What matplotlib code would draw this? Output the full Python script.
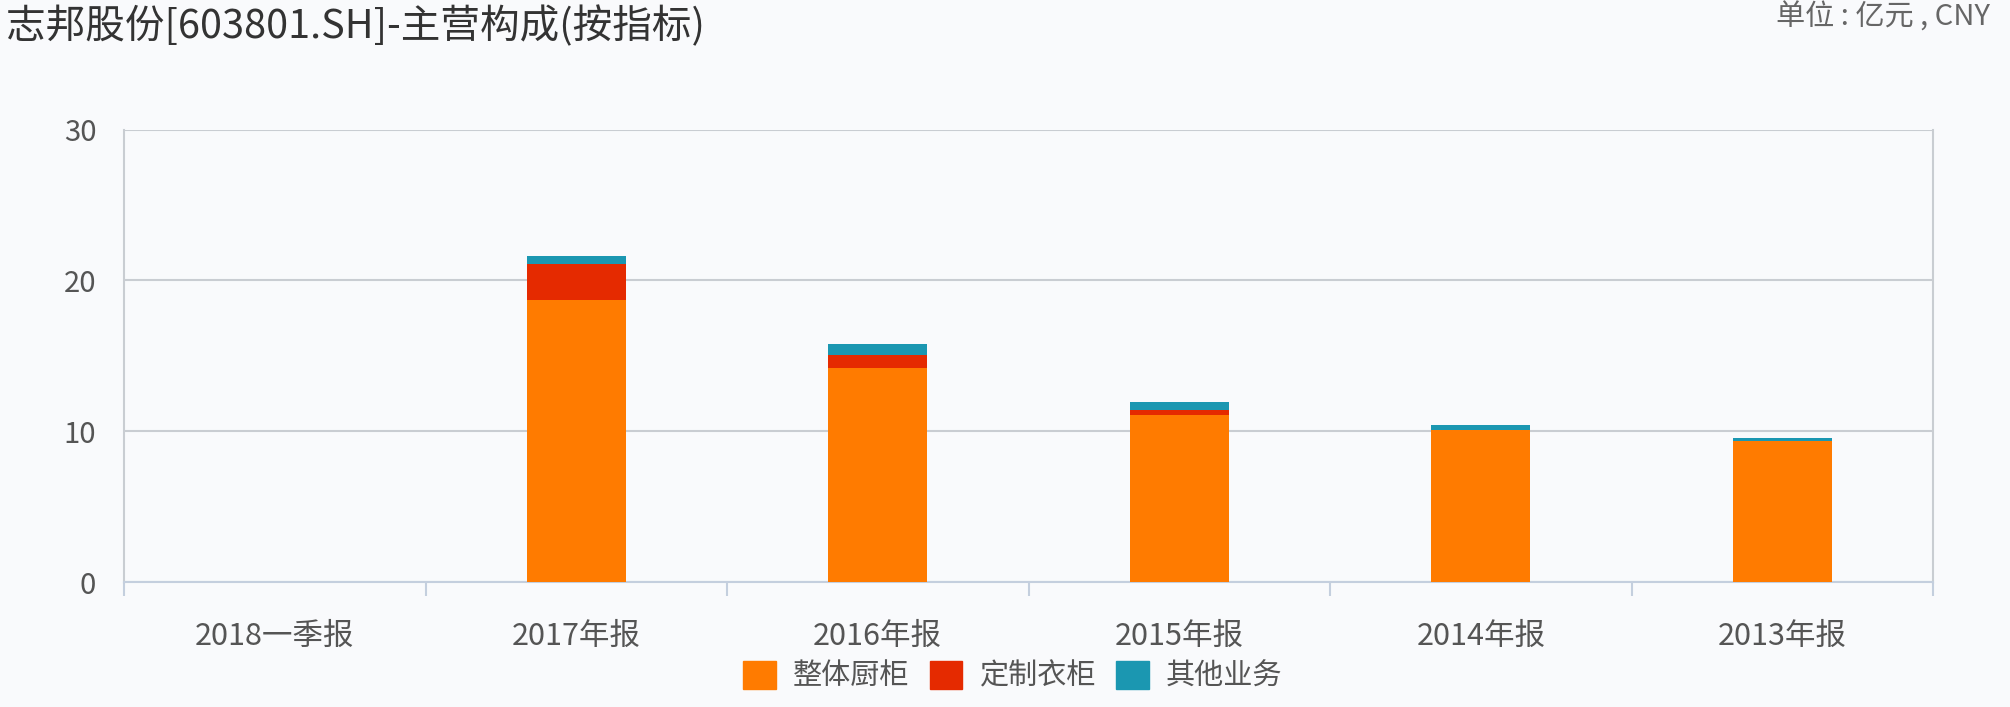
import matplotlib.pyplot as plt
from matplotlib.patches import Patch
import numpy as np

plt.rcParams['font.family'] = ['Noto Sans CJK SC', 'DejaVu Sans']

# data (亿元)
periods = ["2018一季报", "2017年报", "2016年报", "2015年报", "2014年报", "2013年报"]
kitchen = [0, 18.70, 14.22, 11.05, 10.05, 9.38]    # 整体厨柜
wardrobe = [0, 2.35, 0.83, 0.33, 0.0, 0.0]          # 定制衣柜
other = [0, 0.55, 0.71, 0.53, 0.38, 0.18]           # 其他业务
series_names = ["整体厨柜", "定制衣柜", "其他业务"]
colors = ["#ff7b00", "#e52a00", "#1b97b1"]

bg = "#f9fafc"
text_col = "#555555"

fig = plt.figure(figsize=(20.10, 7.07), dpi=100, facecolor=bg)
ax = fig.add_axes([124 / 2010, 1 - 582 / 707, (1933 - 124) / 2010, (582 - 129.5) / 707])
ax.set_facecolor(bg)

x = np.arange(len(periods))
w = 0.33
k = np.array(kitchen)
wd = np.array(wardrobe)
ot = np.array(other)
ax.bar(x, k, w, color=colors[0], zorder=3)
ax.bar(x, wd, w, bottom=k, color=colors[1], zorder=3)
ax.bar(x, ot, w, bottom=k + wd, color=colors[2], zorder=3)

ax.set_xlim(-0.5, len(periods) - 0.5)
ax.set_ylim(0, 30)
ax.set_yticks([0, 10, 20, 30])
ax.yaxis.grid(True, color="#c9cdd2", linewidth=1.5, zorder=0)
ax.tick_params(axis="y", length=0, labelsize=21, labelcolor=text_col, pad=20)

ax.set_xticks(x)
ax.set_xticklabels(periods)
ax.set_xticks(np.arange(len(periods) + 1) - 0.5, minor=True)
ax.tick_params(axis="x", which="major", length=0, labelsize=22, labelcolor=text_col, pad=28)
ax.tick_params(axis="x", which="minor", length=10, color="#c4cfde", width=1.5)

for s in ["left", "right"]:
    ax.spines[s].set_color("#c9cdd2")
    ax.spines[s].set_linewidth(1.5)
ax.spines["top"].set_visible(False)
ax.spines["bottom"].set_color("#c4cfde")
ax.spines["bottom"].set_linewidth(1.5)

fig.text(0.003, 0.962, "志邦股份[603801.SH]-主营构成(按指标)", fontsize=28.5,
         color="#333333", va="center", ha="left")
fig.text(1776 / 2010, 0.975, "单位 : 亿元 , CNY", fontsize=21,
         color="#666666", va="center", ha="left")

handles = [Patch(facecolor=c, edgecolor=c) for c in colors]
fig.legend(handles, series_names, loc="center", bbox_to_anchor=(1013 / 2010, 1 - 676 / 707),
           ncol=3, frameon=False, fontsize=21, labelcolor=text_col,
           handlelength=1.1, handleheight=1.1, handletextpad=0.6, columnspacing=0.7)

fig.savefig("out.png", dpi=100, facecolor=bg)
